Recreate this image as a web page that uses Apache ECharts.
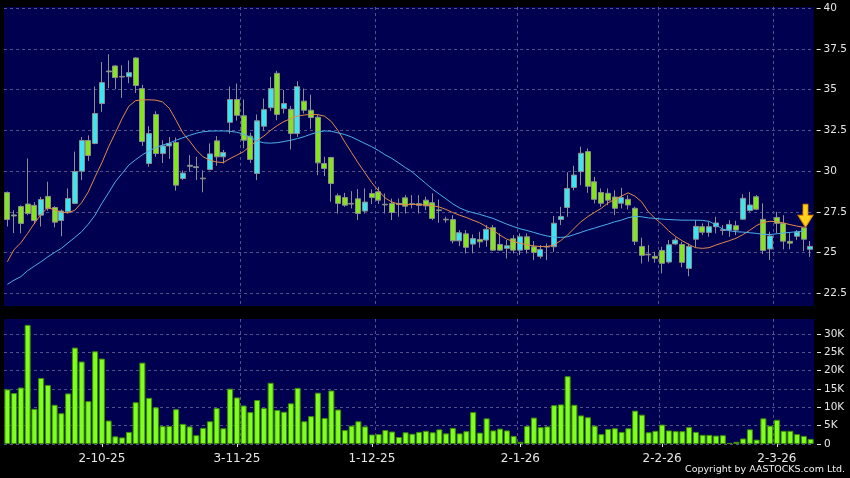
<!DOCTYPE html>
<html>
<head>
<meta charset="utf-8">
<script src="https://cdn.jsdelivr.net/npm/echarts@6/dist/echarts.min.js"></script>
<style>
html, body { margin: 0; padding: 0; background: #000; }
#main { width: 850px; height: 478px; }
</style>
</head>
<body>
<div id="main"></div>
<script>
// 日K: [open, close, low, high]
var candles = [
  [28.69, 27.03, 26.6, 28.75], [27.25, 27.31, 26.2, 27.6], [27.83, 26.79, 26.18, 27.9], [27.98, 27.4, 27.3, 30.78],
  [27.9, 26.97, 26.75, 28.1], [27.3, 28.26, 26.6, 28.42], [28.45, 27.7, 27.57, 29.35], [27.77, 26.87, 26.55, 27.85],
  [26.97, 27.55, 26.0, 27.65], [27.5, 28.32, 27.4, 28.94], [28.02, 29.98, 27.98, 31.2], [30.0, 31.88, 29.45, 32.1],
  [31.88, 30.96, 30.63, 32.2], [31.7, 33.54, 31.65, 35.2], [34.15, 35.44, 33.64, 36.7], [36.1, 36.15, 35.1, 37.18],
  [36.46, 35.75, 35.03, 36.5], [35.82, 35.78, 34.5, 36.5], [35.8, 36.05, 35.4, 36.8], [36.95, 35.26, 34.8, 37.0],
  [35.07, 31.82, 31.55, 35.3], [30.47, 32.31, 30.27, 32.76], [33.48, 31.08, 30.88, 33.68], [31.08, 31.55, 30.5, 31.9],
  [31.55, 31.7, 30.75, 32.1], [31.76, 29.14, 28.8, 32.07], [29.55, 29.88, 29.45, 30.05], [30.3, 30.36, 29.96, 30.98],
  [30.22, 30.27, 29.45, 30.88], [29.57, 29.53, 28.7, 30.05], [30.1, 31.06, 30.05, 31.7], [31.86, 30.88, 30.33, 32.15],
  [30.88, 31.15, 30.47, 31.3], [33.0, 34.4, 32.3, 35.2], [34.4, 33.43, 33.1, 35.38], [33.4, 31.9, 31.4, 34.4],
  [32.15, 30.72, 30.5, 32.37], [29.86, 33.09, 29.45, 33.48], [32.76, 33.78, 32.5, 34.46], [33.9, 35.07, 33.7, 35.79],
  [36.01, 33.48, 33.13, 36.16], [33.84, 34.15, 33.54, 34.98], [33.8, 32.31, 31.33, 34.0], [32.31, 35.19, 32.1, 35.52],
  [34.3, 33.74, 33.54, 35.07], [33.74, 33.29, 32.6, 34.7], [33.31, 30.51, 29.75, 33.44], [30.47, 30.16, 29.7, 30.88],
  [30.84, 29.24, 28.12, 30.88], [28.49, 28.02, 27.4, 28.63], [28.38, 27.91, 27.81, 28.67], [27.98, 28.02, 27.71, 28.77],
  [28.3, 27.4, 27.0, 28.9], [27.55, 28.1, 27.4, 28.94], [28.63, 28.38, 27.98, 28.88], [28.73, 28.22, 27.98, 29.04],
  [27.93, 27.97, 27.4, 28.63], [28.02, 27.46, 27.0, 28.32], [27.95, 28.02, 27.2, 28.32], [28.36, 27.85, 27.4, 28.53],
  [27.95, 28.0, 27.71, 28.53], [28.0, 27.9, 27.4, 28.53], [28.22, 27.87, 27.61, 28.43], [28.06, 27.1, 26.99, 28.63],
  [27.62, 27.58, 26.83, 28.26], [27.05, 27.01, 26.83, 27.2], [27.03, 25.72, 25.56, 27.3], [25.72, 26.22, 25.4, 26.38],
  [26.15, 25.32, 24.95, 26.38], [25.52, 25.86, 24.95, 26.11], [25.81, 25.66, 25.3, 26.28], [25.77, 26.43, 25.36, 26.69],
  [26.53, 25.15, 25.1, 26.69], [25.5, 25.15, 25.1, 26.18], [25.26, 25.42, 24.64, 25.77], [25.85, 25.15, 24.95, 26.07],
  [25.15, 25.97, 24.85, 26.18], [25.97, 25.19, 24.95, 26.18], [25.36, 25.01, 24.54, 25.71], [24.77, 25.19, 24.64, 25.46],
  [25.34, 25.38, 24.54, 25.56], [25.36, 26.8, 25.05, 27.25], [27.03, 27.22, 26.69, 27.81], [27.77, 28.94, 27.2, 29.93],
  [29.0, 29.76, 28.83, 30.33], [29.97, 31.1, 29.14, 31.5], [31.2, 29.07, 28.67, 31.4], [29.35, 28.27, 28.02, 29.65],
  [28.69, 28.03, 27.81, 28.94], [28.64, 28.22, 27.91, 28.94], [28.41, 27.72, 27.3, 28.83], [28.03, 28.38, 27.71, 28.98],
  [28.27, 27.92, 27.65, 28.53], [27.72, 25.69, 25.46, 27.81], [25.38, 24.83, 24.33, 25.91], [24.9, 24.86, 24.44, 25.46],
  [24.77, 24.65, 24.38, 25.05], [25.13, 24.34, 23.72, 25.36], [24.42, 25.48, 24.33, 25.77], [25.53, 25.77, 25.46, 25.93],
  [25.5, 24.4, 24.1, 25.66], [24.03, 25.38, 23.55, 25.56], [25.82, 26.61, 25.3, 26.99], [26.59, 26.25, 26.07, 26.79],
  [26.24, 26.59, 25.97, 26.89], [26.59, 26.82, 26.18, 27.2], [26.36, 26.4, 26.07, 26.69], [26.38, 26.73, 25.97, 26.99],
  [26.65, 26.38, 26.07, 26.95], [27.05, 28.33, 27.0, 28.58], [27.58, 27.92, 27.51, 28.73], [28.43, 27.66, 27.61, 28.53],
  [27.04, 25.13, 24.91, 28.02], [25.22, 26.02, 24.54, 26.28], [27.16, 26.8, 26.18, 27.5], [26.8, 25.7, 25.2, 27.3],
  [25.69, 25.58, 25.2, 26.22], [26.0, 26.26, 25.77, 26.38], [26.52, 25.82, 25.09, 26.59], [25.2, 25.38, 24.73, 25.71]
];

// 10天线 (橙)
var ma10 = [
  24.44, 25.19, 25.6, 26.18, 26.79, 27.35, 27.77, 27.62, 27.48, 27.44,
  27.6, 28.06, 28.73, 29.65, 30.51, 31.49, 32.35, 33.23, 33.99, 34.33,
  34.38, 34.38, 34.36, 34.25, 33.86, 33.13, 32.35, 31.85, 31.3, 30.88,
  30.68, 30.56, 30.53, 30.77, 30.98, 31.2, 31.55, 31.88, 32.15, 32.5,
  32.8, 33.05, 33.22, 33.38, 33.45, 33.48, 33.47, 33.38, 33.05, 32.5,
  31.8, 31.15, 30.5, 29.9, 29.3, 28.8, 28.35, 28.1, 27.98, 27.93,
  27.96, 27.95, 27.92, 27.88, 27.8, 27.65, 27.46, 27.3, 27.16, 26.99,
  26.83, 26.59, 26.38, 26.07, 25.83, 25.68, 25.57, 25.48, 25.41, 25.37,
  25.37, 25.46, 25.73, 26.07, 26.48, 26.89, 27.2, 27.46, 27.71, 28.04,
  28.26, 28.47, 28.67, 28.47, 28.12, 27.51, 27.1, 26.75, 26.34, 26.0,
  25.73, 25.5, 25.3, 25.26, 25.3, 25.46, 25.6, 25.73, 25.88, 26.1,
  26.36, 26.65, 26.85, 26.92, 26.9, 26.82, 26.72, 26.63, 26.55, null
];

// 20天线 (蓝)
var ma20 = [
  23.05, 23.31, 23.52, 23.89, 24.17, 24.44, 24.74, 25.01, 25.26, 25.6,
  25.93, 26.28, 26.75, 27.3, 28.02, 28.67, 29.35, 29.86, 30.37, 30.7,
  31.0, 31.25, 31.45, 31.6, 31.72, 31.9, 32.05, 32.2, 32.33, 32.42,
  32.46, 32.47, 32.47, 32.45, 32.39, 32.27, 32.08, 31.85, 31.74, 31.72,
  31.75, 31.82, 31.9, 32.0, 32.12, 32.27, 32.4, 32.47, 32.45, 32.35,
  32.25, 32.1, 31.9, 31.7, 31.5, 31.27, 31.0, 30.78, 30.5, 30.22,
  29.95, 29.6, 29.25, 28.9, 28.6, 28.3, 28.0, 27.75, 27.57, 27.45,
  27.35, 27.22, 27.1, 26.92, 26.75, 26.6, 26.46, 26.36, 26.24, 26.12,
  26.02, 25.95, 25.93, 25.97, 26.1, 26.24, 26.38, 26.5, 26.63, 26.75,
  26.89, 26.99, 27.14, 27.22, 27.2, 27.13, 27.1, 27.06, 27.03, 27.01,
  26.99, 26.99, 26.99, 26.98, 26.92, 26.7, 26.45, 26.34, 26.28, 26.26,
  26.22, 26.18, 26.12, 26.11, 26.15, 26.2, 26.24, 26.28, 26.32, null
];

// 成交量 (K)
var volume = [
  14.9, 13.9, 15.4, 32.5, 9.6, 18.0, 16.1, 10.7, 8.4, 13.8,
  26.3, 22.5, 11.7, 25.3, 23.3, 6.4, 2.1, 1.8, 3.3, 11.4,
  22.2, 12.6, 10.0, 4.9, 4.9, 9.5, 5.5, 4.8, 2.4, 4.4,
  6.2, 9.8, 4.3, 15.1, 12.7, 10.5, 8.7, 12.0, 9.8, 16.7,
  9.3, 8.8, 11.1, 15.3, 6.2, 7.6, 14.0, 7.1, 14.6, 9.4,
  3.8, 5.0, 6.2, 4.8, 2.6, 2.7, 3.8, 3.4, 1.9, 3.2,
  2.8, 3.3, 3.6, 3.2, 4.0, 2.9, 4.4, 2.9, 3.5, 8.7,
  3.1, 7.0, 3.7, 4.2, 3.7, 2.2, 0.6, 4.9, 7.2, 4.6,
  4.8, 10.6, 10.8, 18.5, 10.7, 7.8, 7.3, 5.0, 2.7, 4.1,
  4.3, 3.3, 4.3, 9.1, 8.0, 3.2, 3.6, 5.3, 3.7, 3.5,
  3.5, 4.6, 3.3, 2.5, 2.5, 2.3, 2.4, 0.3, 0.6, 1.5,
  4.0, 1.2, 7.0, 5.0, 6.6, 3.6, 3.6, 2.7, 2.2, 1.4
];

var priceTicks = [22.5, 25, 27.5, 30, 32.5, 35, 37.5, 40];
var volTicks = [0, 5, 10, 15, 20, 25, 30];
var labelAt = [14, 34, 54, 76, 97, 114];
var labelText = ['2-10-25', '3-11-25', '1-12-25', '2-1-26', '2-2-26', '2-3-26'];
var gridAt = [15, 35, 55, 76, 97, 114];
var arrowAt = [118, 27.26];

var days = candles.map(function (c, i) { return String(i); });

const gridColor = '#52528a';
const txtColor = '#e6e6e6';
const cyan = '#3ae6f2';
const green = '#84e41e';

var splitX = {
  show: true,
  interval: function (i) { return gridAt.indexOf(i) > -1; },
  showMinLine: false,
  showMaxLine: false,
  lineStyle: {color: gridColor, type: [3, 3]}
};
var splitY = {show: true, lineStyle: {color: gridColor, type: [3, 3]}};
var yLabel = {color: txtColor, fontFamily: 'DejaVu Sans', fontSize: 10.5, margin: 7};

var chart = echarts.init(document.getElementById('main'));
chart.setOption({
  animation: false,
  backgroundColor: '#000',
  grid: [
    {left: 4, right: 36, top: 7, height: 299, show: true, backgroundColor: '#000050', borderWidth: 0},
    {left: 4, right: 36, top: 319, height: 125, show: true, backgroundColor: '#000050', borderWidth: 0}
  ],
  xAxis: [
    {
      type: 'category', gridIndex: 0, data: days, boundaryGap: true,
      axisLine: {show: false}, axisTick: {show: false}, axisLabel: {show: false},
      splitLine: splitX
    },
    {
      type: 'category', gridIndex: 1, data: days, boundaryGap: true, offset: 3,
      axisLine: {show: false},
      axisTick: {show: true, length: 3, alignWithLabel: true,
        interval: function (i) { return labelAt.indexOf(i) > -1; },
        lineStyle: {color: txtColor}},
      axisLabel: {
        interval: function (i) { return labelAt.indexOf(i) > -1; },
        formatter: function (v, i) { return labelText[labelAt.indexOf(i)] || ''; },
        color: txtColor, fontFamily: 'DejaVu Sans', fontSize: 12, margin: 6
      },
      splitLine: splitX
    }
  ],
  yAxis: [
    {
      type: 'value', gridIndex: 0, position: 'right', offset: 3,
      min: 21.72, max: 40.08,
      axisLine: {show: false},
      axisTick: {show: true, length: 4, customValues: priceTicks, lineStyle: {color: txtColor}},
      axisLabel: Object.assign({customValues: priceTicks, formatter: function (v) { return String(v); }}, yLabel),
      splitLine: splitY
    },
    {
      type: 'value', gridIndex: 1, position: 'right', offset: 3,
      min: 0, max: 34.1,
      axisLine: {show: false},
      axisTick: {show: true, length: 4, customValues: volTicks, lineStyle: {color: txtColor}},
      axisLabel: Object.assign({customValues: volTicks, formatter: function (v) { return v === 0 ? '0' : v + 'K'; }}, yLabel),
      splitLine: splitY
    }
  ],
  series: [
    {
      type: 'candlestick', xAxisIndex: 0, yAxisIndex: 0, data: candles, barWidth: 5.5,
      itemStyle: {
        color: cyan, color0: green,
        borderColor: '#8e8e8e', borderColor0: '#8e8e8e', borderColorDoji: '#a0a0a0', borderWidth: 1
      },
      markPoint: {
        symbol: 'path://M5,0 L10,0 L10,11 L15,11 L7.5,23 L0,11 L5,11 Z',
        symbolSize: [15, 23],
        symbolOffset: [2, 0],
        label: {show: false},
        itemStyle: {color: '#ffd21c', borderColor: '#d88a00', borderWidth: 1},
        data: [{coord: arrowAt}]
      }
    },
    {
      type: 'line', xAxisIndex: 0, yAxisIndex: 0, data: ma10, showSymbol: false,
      lineStyle: {color: '#e48a4c', width: 1}
    },
    {
      type: 'line', xAxisIndex: 0, yAxisIndex: 0, data: ma20, showSymbol: false,
      lineStyle: {color: '#4cb0ec', width: 1}
    },
    {
      type: 'bar', xAxisIndex: 1, yAxisIndex: 1, data: volume, barWidth: 6,
      itemStyle: {color: '#80ff1e', borderColor: '#3e8c08', borderWidth: 1}
    }
  ],
  graphic: [{
    type: 'text', right: 5, top: 465,
    style: {text: 'Copyright by AASTOCKS.com Ltd.', fill: '#f0f0f0', font: '9.5px "DejaVu Sans"'}
  }]
});
</script>
</body>
</html>
